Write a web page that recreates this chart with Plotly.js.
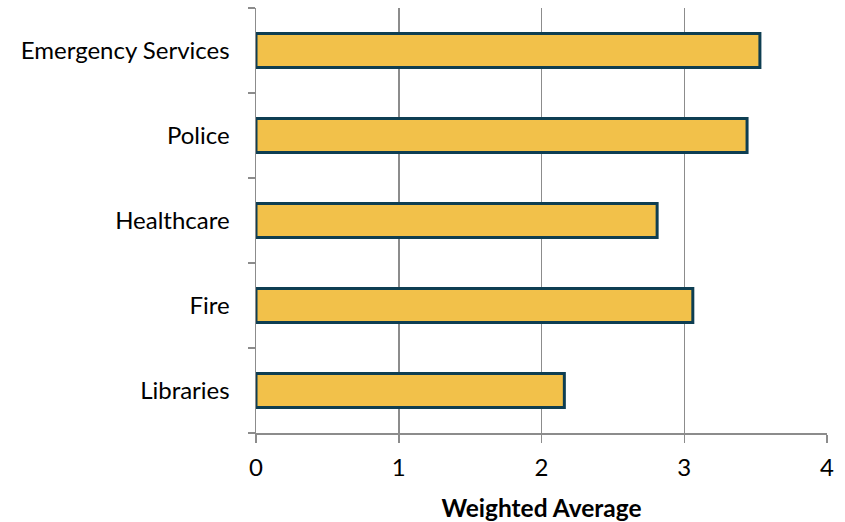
<!DOCTYPE html>
<html><head><meta charset="utf-8">
<script src="https://cdn.plot.ly/plotly-3.0.1.min.js"></script>
<style>html,body{margin:0;padding:0;background:#fff}#chart{width:845px;height:522px}</style>
</head><body><div id="chart"></div>
<script>
const categories = ["Libraries", "Fire", "Healthcare", "Police", "Emergency Services"];
const values = [2.16, 3.06, 2.81, 3.44, 3.53];
const xTicks = [0, 1, 2, 3, 4];

const trace = {
  type: "bar", orientation: "h",
  y: categories, x: values,
  marker: {color: "#F2C14A", line: {color: "#0E3E52", width: 3}},
  width: 0.4,
  hoverinfo: "x+y"
};
const layout = {
  width: 845, height: 522,
  margin: {l: 256, r: 18, t: 8, b: 89},
  paper_bgcolor: "#fff", plot_bgcolor: "#fff",
  font: {family: "Lato, 'Open Sans', sans-serif", size: 24, color: "#000"},
  showlegend: false,
  xaxis: {
    range: [0, 4], tickvals: xTicks, ticktext: xTicks.map(String),
    showgrid: true, gridcolor: "#8c8c8c", gridwidth: 1.5,
    showline: true, linecolor: "#8c8c8c", linewidth: 1.5,
    ticks: "outside", ticklen: 8, tickcolor: "#8c8c8c", tickwidth: 1.5,
    zeroline: false, fixedrange: true, ticklabelstandoff: 5,
    title: {text: "<b>Weighted Average</b>", font: {size: 24.5}, standoff: 20}
  },
  yaxis: {
    type: "category", categoryorder: "array", categoryarray: categories,
    showgrid: false, showline: true, linecolor: "#8c8c8c", linewidth: 1.5,
    ticks: "outside", ticklen: 7, tickcolor: "#8c8c8c", tickwidth: 1.5,
    tickson: "boundaries", ticklabelstandoff: 20, fixedrange: true
  }
};
Plotly.newPlot("chart", [trace], layout, {displayModeBar: false, staticPlot: true});
</script></body></html>
